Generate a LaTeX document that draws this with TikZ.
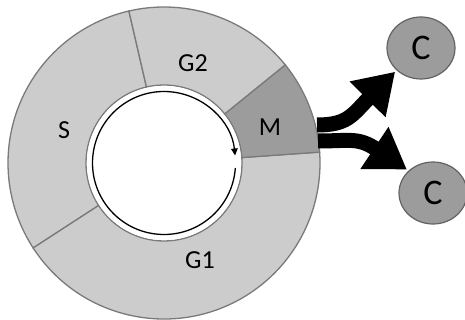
\documentclass[tikz,border=0pt]{standalone}
\usepackage{fontspec}
\setmainfont{Carlito}
\usetikzlibrary{calc}
\usetikzlibrary{arrows.meta}
\usetikzlibrary{shapes.geometric}

\definecolor{ringlight}{HTML}{CCCCCC}
\definecolor{ringdark}{HTML}{9C9C9C}
\definecolor{ringline}{HTML}{7A7A7A}

\begin{document}
\begin{tikzpicture}[x=1pt,y=1pt,
    sector/.style={draw=ringline, line width=1.3pt},
    cell/.style={ellipse, draw=ringline!80!black, line width=1.2pt, fill=ringdark,
      minimum width=68pt, minimum height=62pt, inner sep=0pt, font=\fontsize{36}{36}\selectfont},
    fatarrow/.style={line width=15pt, -{Triangle[length=0pt 2.6 0,width=0pt 3.2 0]}, shorten >=2pt}]
		\useasboundingbox (0,0) rectangle (465,-320);
		% Define the coordinates of the points
		\coordinate (o) at (164,-163);
		\coordinate (mtop) at (317,-125);
		\coordinate (mbot) at (318,-141);

		% Draw the ring
		\foreach \a/\b/\col in {103/213/ringlight, 213/364/ringlight, 4/39/ringdark, 39/103/ringlight}
		\filldraw[sector, fill=\col] ($(o)+(\a:156)$) arc[start angle=\a, end angle=\b, radius=156]
		  -- ($(o)+(\b:78)$) arc[start angle=\b, end angle=\a, radius=78] -- cycle;
		\fill[white] (o) circle (77);

		% Cycle arrow
		\draw[line width=1.3pt, -{Triangle[length=7pt,width=6.5pt]}] ($(o)+(-4:71.5)$)
		  arc[start angle=-4, end angle=-354, radius=71.5];

		\foreach \pos/\label in {{(193,-63)}/G2, {(64,-130)}/S, {(270,-127)}/M, {(200,-260)}/G1}
		\node[font=\fontsize{26}{26}\selectfont] at \pos {\label};

		% Daughter cells
		\node[cell] (ctop) at (421,-48) {C};
		\node[cell] (cbot) at (433,-193) {C};

		% Draw the arrows
		\draw[fatarrow] (mtop) .. controls (348,-125) and (352,-115) .. (ctop.south west);
		\draw[fatarrow] (mbot) .. controls (350,-141) and (358,-137) .. (cbot.north west);
     \end{tikzpicture}
\end{document}
